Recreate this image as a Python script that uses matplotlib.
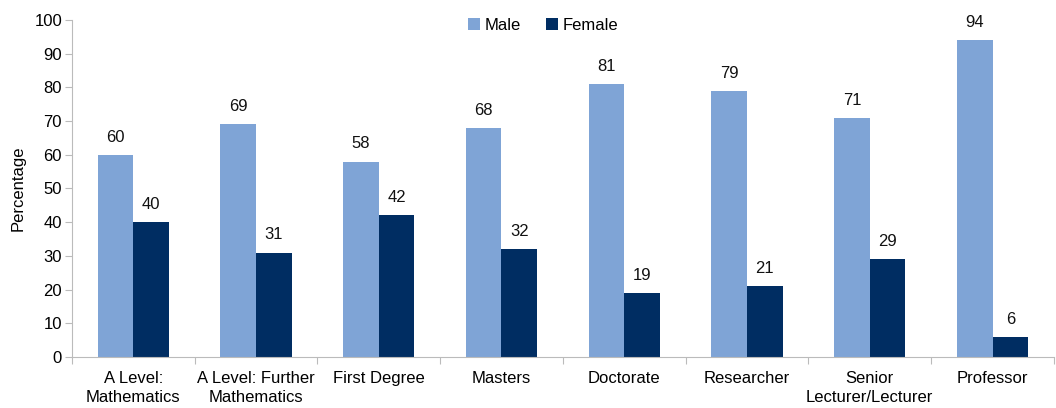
import matplotlib
matplotlib.use("Agg")
import matplotlib.pyplot as plt
import numpy as np

categories = ["A Level:\nMathematics", "A Level: Further\nMathematics", "First Degree", "Masters",
              "Doctorate", "Researcher", "Senior\nLecturer/Lecturer", "Professor"]
male = [60, 69, 58, 68, 81, 79, 71, 94]
female = [40, 31, 42, 32, 19, 21, 29, 6]

plt.rcParams['font.family'] = ['Liberation Sans', 'DejaVu Sans']
fig = plt.figure(figsize=(10.56, 4.08), dpi=100)
ax = fig.add_axes([0.068, 0.125, 0.930, 0.826])

x = np.arange(len(categories))
w = 0.29
c_m = "#7fa4d6"
c_f = "#002d62"
fs = 12
bm = ax.bar(x - w/2, male, w, color=c_m, label="Male")
bf = ax.bar(x + w/2, female, w, color=c_f, label="Female")
for rect, v in zip(bm, male):
    ax.text(rect.get_x() + rect.get_width()/2, v + 3, str(v), ha="center", va="bottom", fontsize=fs, color="#111111")
for rect, v in zip(bf, female):
    ax.text(rect.get_x() + rect.get_width()/2, v + 3, str(v), ha="center", va="bottom", fontsize=fs, color="#111111")

ax.set_xlim(-0.5, len(categories) - 0.5)
ax.set_ylim(0, 100)
ax.set_yticks(range(0, 101, 10))
ax.set_xticks(np.arange(-0.5, len(categories), 1.0))
ax.set_xticklabels([])
ax.set_xticks(x, minor=True)
ax.set_xticklabels(categories, minor=True, fontsize=fs, linespacing=1.35)
ax.tick_params(axis="x", which="minor", length=0, pad=10)
ax.tick_params(axis="x", which="major", length=5, color="#bbbbbb")
ax.tick_params(axis="y", length=5, color="#bbbbbb", labelsize=fs, pad=2)
for s in ["top", "right"]:
    ax.spines[s].set_visible(False)
for s in ["left", "bottom"]:
    ax.spines[s].set_color("#bbbbbb")
ax.set_ylabel("Percentage", fontsize=fs, labelpad=6)
ax.legend(loc="upper center", bbox_to_anchor=(0.48, 1.05), ncol=2, frameon=False, fontsize=fs,
          handlelength=0.7, handleheight=0.7, handletextpad=0.3, columnspacing=1.5)
fig.savefig("out.png", dpi=100)
